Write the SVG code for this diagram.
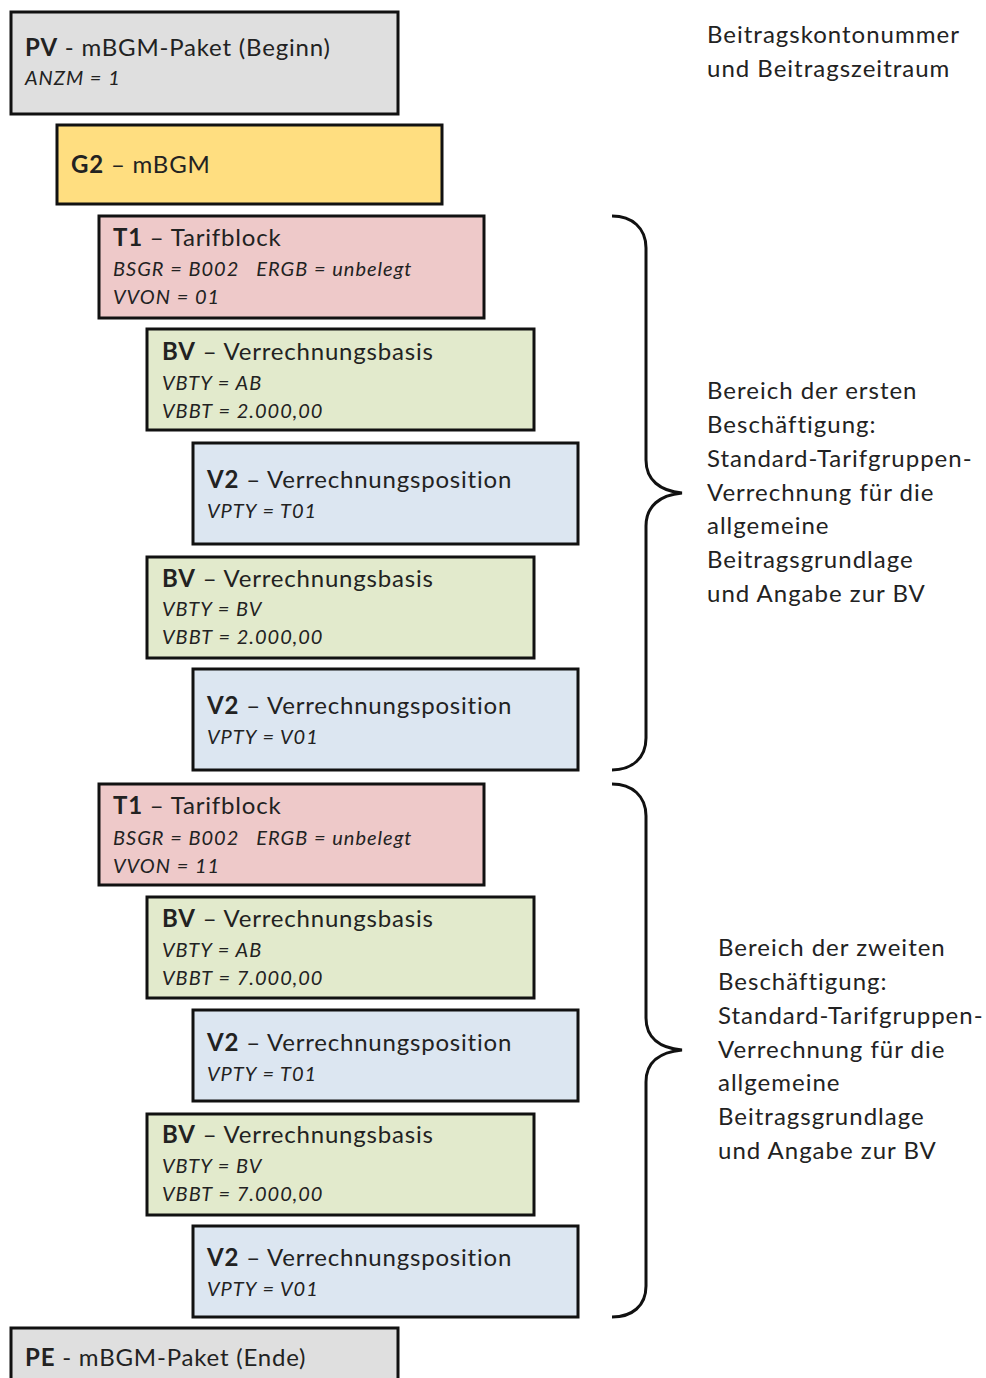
<svg xmlns="http://www.w3.org/2000/svg" width="986" height="1378" viewBox="0 0 986 1378">
<style>
.box{stroke:#111;stroke-width:3}
.pv{fill:#dfdfdf}
.g2{fill:#ffde80}
.t1{fill:#eec9c9}
.bv{fill:#e2eacc}
.v2{fill:#dce6f1}
text{font-family:Lato,"Liberation Sans",sans-serif;fill:#222}
.h{font-size:24px;letter-spacing:0.8px}
.b{font-weight:bold}
.i{font-size:20px;font-style:italic;letter-spacing:1px}
.r{font-size:24px;letter-spacing:1px}
.brace{fill:none;stroke:#111;stroke-width:3}
</style>
<rect width="986" height="1378" fill="#fff"/>
<g id="pv">
<rect class="box pv" x="11" y="12" width="387" height="102"/>
<text class="h" x="25" y="56"><tspan class="b">PV</tspan> - mBGM-Paket (Beginn)</text>
<text class="i" x="25" y="85">ANZM = 1</text>
</g>
<g id="g2">
<rect class="box g2" x="57" y="125" width="385" height="79"/>
<text class="h" x="71" y="173"><tspan class="b">G2</tspan> – mBGM</text>
</g>
<g id="t1a">
<rect class="box t1" x="99" y="216" width="385" height="102"/>
<text class="h" x="113" y="246"><tspan class="b">T1</tspan> – Tarifblock</text>
<text class="i" x="113" y="276" xml:space="preserve">BSGR = B002   ERGB = unbelegt</text>
<text class="i" x="113" y="304">VVON = 01</text>
</g>
<g id="bv1">
<rect class="box bv" x="147" y="329" width="387" height="101"/>
<text class="h" x="162" y="360"><tspan class="b">BV</tspan> – Verrechnungsbasis</text>
<text class="i" x="162" y="390">VBTY = AB</text>
<text class="i" x="162" y="418">VBBT = 2.000,00</text>
</g>
<g id="v2a">
<rect class="box v2" x="193" y="443" width="385" height="101"/>
<text class="h" x="207" y="488"><tspan class="b">V2</tspan> – Verrechnungsposition</text>
<text class="i" x="207" y="518">VPTY = T01</text>
</g>
<g id="bv2">
<rect class="box bv" x="147" y="557" width="387" height="101"/>
<text class="h" x="162" y="587"><tspan class="b">BV</tspan> – Verrechnungsbasis</text>
<text class="i" x="162" y="616">VBTY = BV</text>
<text class="i" x="162" y="644">VBBT = 2.000,00</text>
</g>
<g id="v2b">
<rect class="box v2" x="193" y="669" width="385" height="101"/>
<text class="h" x="207" y="714"><tspan class="b">V2</tspan> – Verrechnungsposition</text>
<text class="i" x="207" y="744">VPTY = V01</text>
</g>
<g id="t1b">
<rect class="box t1" x="99" y="784" width="385" height="101"/>
<text class="h" x="113" y="814"><tspan class="b">T1</tspan> – Tarifblock</text>
<text class="i" x="113" y="845" xml:space="preserve">BSGR = B002   ERGB = unbelegt</text>
<text class="i" x="113" y="873">VVON = 11</text>
</g>
<g id="bv3">
<rect class="box bv" x="147" y="897" width="387" height="101"/>
<text class="h" x="162" y="927"><tspan class="b">BV</tspan> – Verrechnungsbasis</text>
<text class="i" x="162" y="957">VBTY = AB</text>
<text class="i" x="162" y="985">VBBT = 7.000,00</text>
</g>
<g id="v2c">
<rect class="box v2" x="193" y="1010" width="385" height="91"/>
<text class="h" x="207" y="1051"><tspan class="b">V2</tspan> – Verrechnungsposition</text>
<text class="i" x="207" y="1081">VPTY = T01</text>
</g>
<g id="bv4">
<rect class="box bv" x="147" y="1114" width="387" height="101"/>
<text class="h" x="162" y="1143"><tspan class="b">BV</tspan> – Verrechnungsbasis</text>
<text class="i" x="162" y="1173">VBTY = BV</text>
<text class="i" x="162" y="1201">VBBT = 7.000,00</text>
</g>
<g id="v2d">
<rect class="box v2" x="193" y="1226" width="385" height="91"/>
<text class="h" x="207" y="1266"><tspan class="b">V2</tspan> – Verrechnungsposition</text>
<text class="i" x="207" y="1296">VPTY = V01</text>
</g>
<g id="pe">
<rect class="box pv" x="11" y="1328" width="387" height="70"/>
<text class="h" x="25" y="1366"><tspan class="b">PE</tspan> - mBGM-Paket (Ende)</text>
</g>
<g id="connectors">
<path class="brace" d="M612,216 C632,216 646,228 646,248 L646,460 C646,480 660,491 682,493 C660,495 646,506 646,526 L646,738 C646,758 632,770 612,770"/>
<path class="brace" d="M612,784 C632,784 646,796 646,816 L646,1018 C646,1038 660,1048 682,1050 C660,1052 646,1062 646,1082 L646,1286 C646,1306 632,1317 612,1317"/>
</g>
<g id="label-top">
<text class="r" x="707" y="43">Beitragskontonummer</text>
<text class="r" x="707" y="77">und Beitragszeitraum</text>
</g>
<g id="label-1">
<text class="r" x="707" y="399">Bereich der ersten</text>
<text class="r" x="707" y="433">Beschäftigung:</text>
<text class="r" x="707" y="467">Standard-Tarifgruppen-</text>
<text class="r" x="707" y="501">Verrechnung für die</text>
<text class="r" x="707" y="534">allgemeine</text>
<text class="r" x="707" y="568">Beitragsgrundlage</text>
<text class="r" x="707" y="602">und Angabe zur BV</text>
</g>
<g id="label-2">
<text class="r" x="718" y="956">Bereich der zweiten</text>
<text class="r" x="718" y="990">Beschäftigung:</text>
<text class="r" x="718" y="1024">Standard-Tarifgruppen-</text>
<text class="r" x="718" y="1058">Verrechnung für die</text>
<text class="r" x="718" y="1091">allgemeine</text>
<text class="r" x="718" y="1125">Beitragsgrundlage</text>
<text class="r" x="718" y="1159">und Angabe zur BV</text>
</g>
</svg>
